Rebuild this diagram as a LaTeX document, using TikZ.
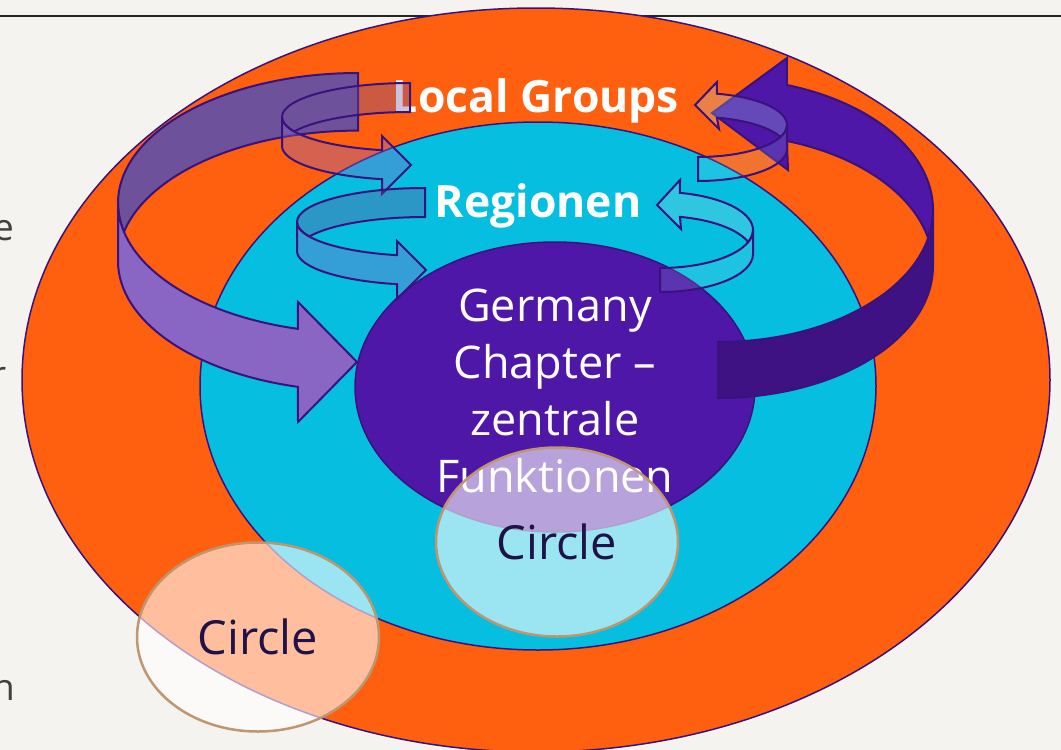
\documentclass[tikz,border=0pt]{standalone}
\usepackage{fontspec}
\setmainfont{Open Sans}
\usetikzlibrary{shapes.geometric}
\definecolor{paper}{RGB}{245,243,239}
\definecolor{ink}{RGB}{58,18,125}
\definecolor{lgorange}{RGB}{255,96,16}
\definecolor{regcyan}{RGB}{6,190,224}
\definecolor{chapter}{RGB}{78,23,168}
\definecolor{lavender}{RGB}{137,102,196}
\definecolor{lavdark}{RGB}{110,81,155}
\definecolor{deep}{RGB}{63,18,131}
\definecolor{pale}{RGB}{170,225,235}
\definecolor{tan}{RGB}{191,150,112}
\definecolor{navy}{RGB}{30,18,70}
\begin{document}
\begin{tikzpicture}[x=1pt,y=-1pt,
	ring/.style={ellipse,draw=ink,line width=1.5pt,inner sep=0pt},
	band/.style={draw=ink,line width=2pt},
	glass/.style={band,fill opacity=0.35},
	sheen/.style={band,fill=pale,fill opacity=0.25},
	circ/.style={ellipse,draw=tan,line width=2.5pt,fill=white,fill opacity=0.6,text opacity=1,
		minimum width=242,minimum height=189,inner sep=0pt,text=navy,font=\fontsize{47}{56}\selectfont},
	title/.style={text=white,anchor=base,font=\fontsize{44.5}{53}\selectfont\bfseries},
	side/.style={text=black!75,anchor=base east,inner sep=0pt,font=\fontsize{37}{44}\selectfont}]
	\useasboundingbox (0,0) rectangle (1061,750);
	\fill[paper] (0,0) rectangle (1061,750);
	\draw[black!85,line width=1.2pt] (0,16) -- (1061,16);
	\node[side] (frag1) at (14,240) {e};
	\node[side] (frag2) at (7,387) {r};
	\node[side] (frag3) at (15,700) {h};

	\node[ring,fill=lgorange,minimum width=1028,minimum height=744] (local) at (536,380) {};
	\node[ring,fill=regcyan,minimum width=676,minimum height=528] (region) at (538,386) {};
	\node[ring,fill=chapter,minimum width=400,minimum height=290] (chapter) at (555,387) {};

	% big arrow left
	\filldraw[band,fill=lavdark,x radius=240,y radius=130]
		([shift={(358,203)}]270:240 and 130) arc[start angle=270,end angle=167.2]
		arc[start angle=192.8,end angle=270] -- cycle;
	\filldraw[band,fill=lavender,x radius=240,y radius=130]
		([shift={(358,203)}]180:240 and 130) arc[start angle=180,end angle=104.5]
		-- (298,302) -- (357,362) -- (298,422) -- ([shift={(358,261)}]104.5:240 and 130)
		arc[start angle=104.5,end angle=180] -- cycle;

	% big arrow right
	\filldraw[band,fill=chapter,x radius=215,y radius=132]
		([shift={(718,210)}]288.7:215 and 132) arc[start angle=288.7,end angle=372.25]
		arc[start angle=347.75,end angle=288.7] -- (788,170) -- (712,113) -- (787,58) -- cycle;
	\filldraw[band,fill=deep,x radius=215,y radius=132]
		([shift={(718,210)}]0:215 and 132) arc[start angle=0,end angle=90]
		-- ++(0,56) arc[start angle=90,end angle=0] -- cycle;

	\node[title] (groups) at (536,112) {Local Groups};
	\node[title] (regions) at (538,217) {Regionen};
	\node[text=white,align=center,font=\fontsize{45}{57}\selectfont] (central) at (555,391)
		{Germany\\Chapter –\\zentrale\\Funktionen};

	% small arrows left
	\filldraw[glass,fill=lavdark,x radius=128,y radius=34]
		([shift={(410,117)}]270:128 and 34) arc[start angle=270,end angle=154.75]
		arc[start angle=205.25,end angle=270] -- cycle;
	\filldraw[glass,fill=lavender,x radius=128,y radius=34]
		([shift={(410,117)}]180:128 and 34) arc[start angle=180,end angle=102.6]
		-- (382,136) -- (411,165) -- (382,194) -- ([shift={(410,146)}]102.6:128 and 34)
		arc[start angle=102.6,end angle=180] -- cycle;
	\filldraw[glass,fill=lavdark,x radius=128,y radius=34]
		([shift={(425,222)}]270:128 and 34) arc[start angle=270,end angle=154.75]
		arc[start angle=205.25,end angle=270] -- cycle;
	\filldraw[glass,fill=lavender,x radius=128,y radius=34]
		([shift={(425,222)}]180:128 and 34) arc[start angle=180,end angle=102.6]
		-- (397,241) -- (426,270) -- (397,299) -- ([shift={(425,251)}]102.6:128 and 34)
		arc[start angle=102.6,end angle=180] -- cycle;

	% small arrows right
	\filldraw[sheen,x radius=93,y radius=38]
		([shift={(660,230)}]282.4:93 and 38) arc[start angle=282.4,end angle=378.4]
		arc[start angle=341.6,end angle=282.4] -- (681,229) -- (657,205) -- (680,180) -- cycle;
	\filldraw[sheen,fill opacity=0.15,x radius=93,y radius=38]
		([shift={(660,230)}]0:93 and 38) arc[start angle=0,end angle=90]
		-- ++(0,24) arc[start angle=90,end angle=0] -- cycle;
	\filldraw[sheen,x radius=89,y radius=32]
		([shift={(698,125)}]282.3:89 and 32) arc[start angle=282.3,end angle=382]
		arc[start angle=338,end angle=282.3] -- (719,129) -- (695,105) -- (717,82) -- cycle;
	\filldraw[sheen,fill opacity=0.15,x radius=89,y radius=32]
		([shift={(698,125)}]0:89 and 32) arc[start angle=0,end angle=90]
		-- ++(0,24) arc[start angle=90,end angle=0] -- cycle;

	\node[circ] (midcircle) at (557,542) {Circle};
	\node[circ] (lowcircle) at (258,637) {Circle};
\end{tikzpicture}
\end{document}
